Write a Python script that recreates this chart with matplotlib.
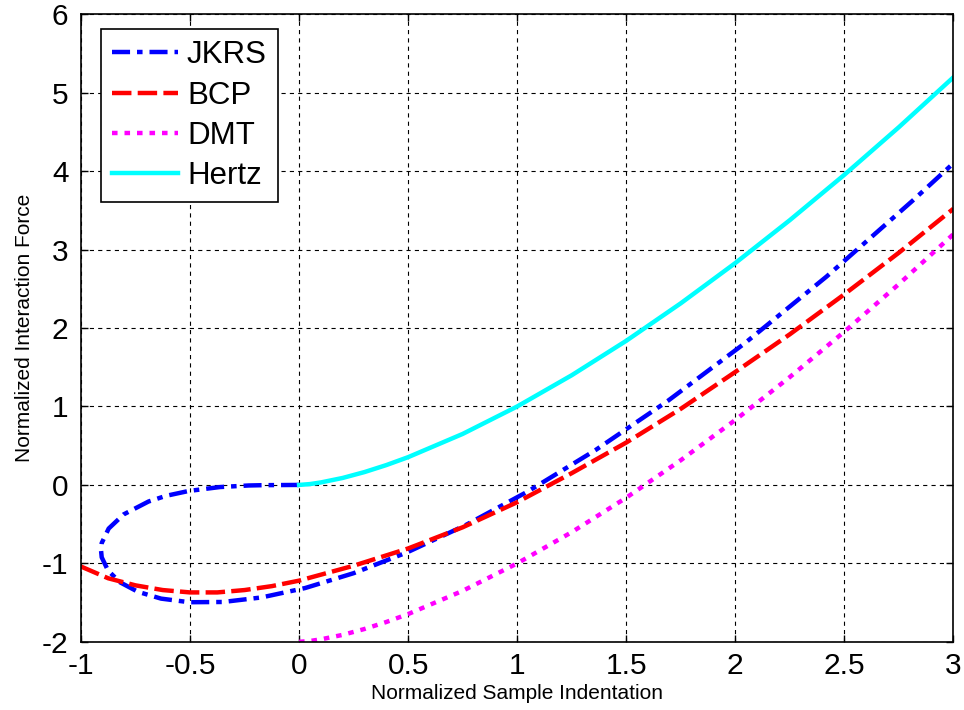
import matplotlib.pyplot as plt
import numpy as np

plt.rcParams['font.family'] = ['Liberation Sans', 'DejaVu Sans']
plt.rcParams['lines.scale_dashes'] = False
plt.rcParams['axes.unicode_minus'] = False

# JKRS curve (loop)
jkrs_x = [0.0, -0.163, -0.231, -0.363, -0.506, -0.610, -0.690, -0.804, -0.873,
          -0.905, -0.908, -0.905, -0.876, -0.821, -0.739, -0.633, -0.503, -0.349,
          -0.172, 0.028, 0.25, 0.494, 0.761, 1.049, 1.359, 1.691, 2.044, 2.418,
          2.813, 3.0]
jkrs_y = [0.0, -0.003, -0.007, -0.027, -0.077, -0.139, -0.211, -0.375, -0.556,
          -0.741, -0.833, -0.922, -1.091, -1.241, -1.362, -1.449, -1.495, -1.492,
          -1.434, -1.314, -1.125, -0.861, -0.516, -0.083, 0.444, 1.072, 1.807,
          2.655, 3.623, 4.10]

# BCP
bcp_x = [-1.0, -0.875, -0.75, -0.625, -0.5, -0.375, -0.25, -0.125, 0.0, 0.25, 0.5,
         0.75, 1.0, 1.25, 1.5, 1.75, 2.0, 2.25, 2.5, 2.75, 3.0]
bcp_y = [-1.04, -1.19, -1.28, -1.34, -1.37, -1.37, -1.34, -1.29, -1.22, -1.03, -0.81,
         -0.54, -0.22, 0.15, 0.54, 0.97, 1.44, 1.92, 2.43, 2.96, 3.52]

# Hertz and DMT
hz_x = [0.0, 0.05, 0.1, 0.2, 0.3, 0.4, 0.5, 0.75, 1.0, 1.25, 1.5, 1.75, 2.0, 2.25,
        2.5, 2.75, 3.0]
hz_y = [0.0, 0.011, 0.032, 0.089, 0.164, 0.253, 0.354, 0.650, 1.0, 1.398, 1.837,
        2.315, 2.828, 3.375, 3.953, 4.560, 5.196]
dmt_x = hz_x
dmt_y = [-2.0, -1.989, -1.968, -1.911, -1.836, -1.747, -1.646, -1.350, -1.0, -0.602,
         -0.163, 0.315, 0.828, 1.375, 1.953, 2.560, 3.196]

fig = plt.figure(figsize=(9.64, 7.10), dpi=100)
ax = fig.add_axes([0.084, 0.096, 0.905, 0.884])

ax.plot(jkrs_x, jkrs_y, color='blue', lw=3.2, dashes=(13, 5, 4, 5), label='JKRS')
ax.plot(bcp_x, bcp_y, color='red', lw=3.2, dashes=(14, 4.5), label='BCP')
ax.plot(dmt_x, dmt_y, color='magenta', lw=3.2, dashes=(4, 5), label='DMT')
ax.plot(hz_x, hz_y, color='cyan', lw=3.2, label='Hertz')

ax.set_xlim(-1, 3)
ax.set_ylim(-2, 6)
ax.set_xticks(np.arange(-1, 3.01, 0.5))
ax.set_xticklabels(['-1', '-0.5', '0', '0.5', '1', '1.5', '2', '2.5', '3'])
ax.set_yticks(range(-2, 7))
ax.grid(True, color='k', linestyle=(0, (3, 3)), linewidth=0.8)
ax.tick_params(direction='in', length=5, width=1, top=True, right=True,
               labelsize=21.5)
ax.tick_params(axis='x', pad=7)
ax.tick_params(axis='y', pad=9)
for s in ax.spines.values():
    s.set_linewidth(1.2)

ax.set_xlabel('Normalized Sample Indentation', fontsize=15, labelpad=3)
ax.set_ylabel('Normalized Interaction Force', fontsize=15, labelpad=6)

leg = ax.legend(loc='upper left', bbox_to_anchor=(0.023, 0.976), fontsize=22.5,
                fancybox=False, framealpha=1, edgecolor='k', handlelength=2.1,
                labelspacing=0.33, borderpad=0.35, handletextpad=0.3,
                borderaxespad=0)
leg.get_frame().set_linewidth(1.2)

fig.savefig('out.png', dpi=100)
